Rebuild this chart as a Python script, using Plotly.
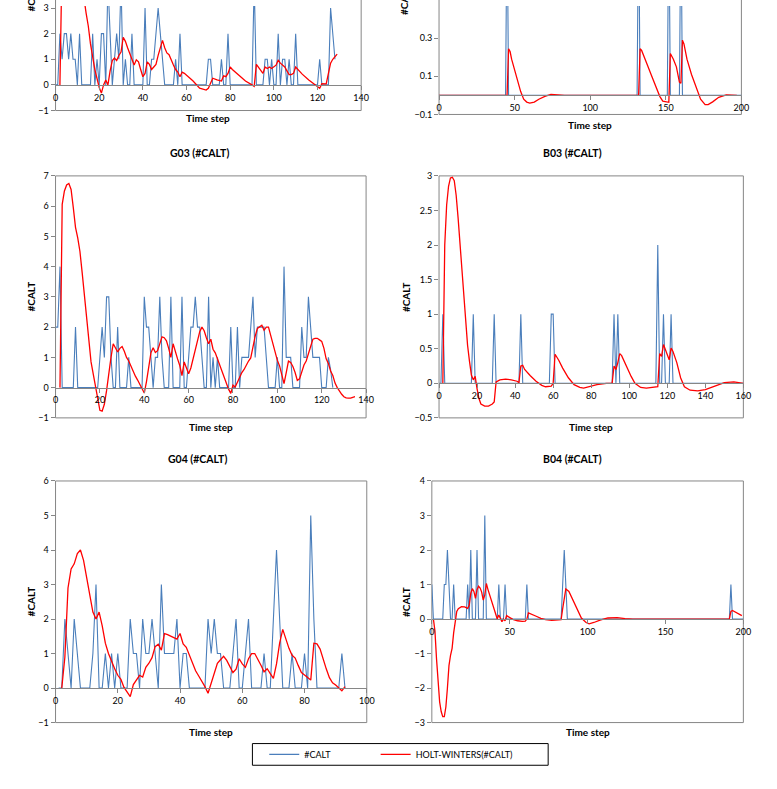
import plotly.graph_objects as go

W, H = 777, 789

# ---------------- data ----------------
# Top-left panel (cropped), time steps 0..128
TL_BLUE_START = 0
TL_BLUE = [0, 0, 2, 1, 2, 2, 1, 2, 1, 1, 0, 2, 0, 0, 0, 0, 0, 2, 0, 1,
           0, 2, 2, 0, 4, 2, 0, 1, 2, 1, 4, 0, 1, 0, 0, 2, 0, 0, 0, 0,
           0, 3, 0, 0, 1, 1, 2, 3, 2, 1, 0, 0, 0, 0, 0, 1, 0, 2, 0, 0,
           0, 0, 0, 0, 0, 0, 0, 0, 0, 0, 1, 1, 0, 0, 0, 0, 1, 0, 0, 2,
           0, 0, 0, 0, 0, 0, 0, 0, 0, 0, 0, 4, 0, 0, 0, 0, 1, 1, 0, 1,
           0, 0, 2, 0, 1, 1, 0, 1, 0, 0, 2, 0, 0, 0, 0, 0, 0, 0, 0, 0,
           0, 1, 0, 0, 0, 0, 3, 2, 1]
TL_RED_T = [2, 3, 4, 6, 8, 10, 12, 13, 14, 15, 16, 17, 18, 19, 20, 21, 22, 23, 24, 25,
            26, 27, 28, 29, 30, 31, 32, 33, 34, 35, 36, 37, 38, 39, 40, 41, 42, 43, 44, 45,
            46, 47, 48, 49, 50, 51, 52, 53, 54, 55, 56, 57, 58, 59, 60, 61, 63, 66, 69, 70,
            71, 72, 74, 76, 77, 78, 79, 80, 81, 84, 87, 90, 91, 92, 93, 95, 96, 97, 98, 99,
            101, 102, 103, 105, 106, 107, 108, 109, 110, 111, 113, 116, 118, 120, 121, 122,
            123, 124, 125, 126, 127, 128, 129]
TL_RED_V = [0, 5.0, 6.2, 6.6, 6.0, 5.0, 3.9, 3.4, 2.8, 2.3, 1.6, 1.0, 0.6, 0.25, -0.1, -0.32, 0.0, 0.19, 0.0, 0.55,
            0.95, 1.05, 0.95, 1.15, 1.28, 1.86, 1.7, 1.45, 1.2, 0.98, 0.78, 0.98, 0.9, 0.6, 0.32, 0.45, 0.9, 0.8, 0.6, 0.7,
            0.8, 1.15, 1.45, 1.74, 1.45, 1.25, 1.18, 0.95, 0.78, 0.6, 0.5, 0.32, 0.5, 0.45, 0.38, 0.32, 0.15, -0.13, -0.2, -0.13,
            0.05, 0.26, 0.2, 0.15, 0.35, 0.32, 0.45, 0.7, 0.6, 0.38, 0.15, 0.0, -0.06, 0.8, 0.67, 0.45, 0.7, 0.64, 0.7, 0.64,
            0.77, 0.96, 0.85, 0.7, 0.55, 0.4, 0.4, 0.45, 0.7, 0.6, 0.42, 0.19, 0.06, -0.1, -0.13, 0.05,
            0.04, 0.04, 0.45, 0.85, 1.0, 1.1, 1.2]

# Top-right panel (cropped), sparse points
TR_BLUE_T = [0, 44, 45, 46, 131, 132, 133, 151, 152, 153, 159, 160, 161, 200]
TR_BLUE_V = [0, 0, 1, 0, 0, 1, 0, 0, 1, 0, 0, 1, 0, 0]
TR_RED_T = [0, 45, 46, 47, 48, 50, 52, 54, 56, 58, 60, 63, 66, 70, 74, 79, 83, 132, 133, 134,
            136, 138, 140, 143, 146, 148, 152, 153, 155, 157, 159, 160, 161, 162, 164, 167, 170, 173, 176, 178,
            181, 185, 190, 193, 197]
TR_RED_V = [0, 0, 0.245, 0.23, 0.19, 0.13, 0.07, 0.02, -0.02, -0.035, -0.04, -0.035, -0.02, -0.005, 0.005, 0.003, 0, 0, 0.245, 0.236,
            0.2, 0.155, 0.115, 0.055, -0.005, -0.03, -0.036, 0.22, 0.19, 0.15, 0.07, 0.064, 0.29, 0.27, 0.19, 0.11, 0.04, -0.02, -0.048, -0.048,
            -0.034, -0.01, 0.003, 0.003, 0]

# G03, time steps 0..125
G03_BLUE_START = 0
G03_BLUE = [2, 2, 4, 0, 0, 0, 0, 0, 0, 2, 0, 0, 0, 0, 0, 0, 0, 0, 0, 0,
            1, 2, 1, 3, 3, 1, 0, 0, 2, 0, 0, 0, 0, 1, 0, 0, 0, 0, 0, 0,
            3, 2, 2, 1, 0, 1, 1, 3, 1, 0, 0, 0, 3, 0, 0, 0, 0, 3, 0, 0,
            1, 2, 2, 3, 2, 2, 1, 0, 0, 3, 0, 1, 0, 1, 0, 0, 0, 0, 0, 2,
            0, 0, 2, 0, 1, 1, 1, 1, 2, 3, 1, 2, 2, 2, 2, 1, 0, 0, 0, 0,
            1, 0, 0, 4, 1, 1, 1, 0, 0, 0, 0, 2, 1, 1, 3, 2, 1, 1, 1, 1,
            0, 0, 0, 1, 0.6, 0]
G03_RED_START = 2
G03_RED = [0, 6.06, 6.5, 6.7, 6.75, 6.55, 5.95, 5.3, 4.95, 4.5, 3.8, 3.0, 2.4, 1.6, 0.85, 0.45, 0.0, -0.45,
           -0.75, -0.78, -0.55, -0.1, 0.5, 1.0, 1.45, 1.3, 1.18, 1.3, 1.36, 1.2, 1.0, 0.88, 0.7, 0.52, 0.38, 0.25,
           0.12, 0.0, -0.18, 0.2, 0.75, 1.15, 1.32, 1.16, 1.22, 1.45, 1.68, 1.65, 1.55, 1.3, 1.0, 1.45, 1.15, 0.95,
           0.73, 0.4, 0.85, 0.65, 0.46, 0.65, 0.95, 1.3, 1.6, 1.85, 2.0, 1.88, 1.65, 1.45, 1.6, 1.27, 1.15, 0.95,
           0.7, 0.5, 0.3, 0.1, -0.05, -0.19, 0.08, 0.02, 0.18, 0.35, 0.5, 0.6, 0.75, 0.88, 0.98, 1.35, 1.7, 1.96,
           2.0, 2.06, 1.9, 2.0, 2.0, 1.7, 1.4, 1.1, 0.9, 0.72, 0.4, 0.13, 0.5, 0.88, 0.83, 0.7, 0.5, 0.24,
           0.29, 0.55, 0.75, 0.88, 1.1, 1.35, 1.6, 1.63, 1.63, 1.58, 1.53, 1.3, 0.95, 0.8, 0.55, 0.4, 0.15, 0.0,
           -0.12, -0.22, -0.3, -0.34, -0.35, -0.35, -0.32, -0.3]

# B03, sparse points
B03_BLUE_T = [0, 1, 2, 3, 17, 18, 19, 28, 29, 30, 42, 43, 44, 58, 59, 60, 61, 91, 92, 93,
              94, 95, 114, 115, 116, 117, 118, 119, 121, 122, 123, 160]
B03_BLUE_V = [0, 0, 1, 0, 0, 1, 0, 0, 1, 0, 0, 1, 0, 0, 1, 1, 0, 0, 1, 0,
              1, 0, 0, 2, 0, 0, 1, 0, 0, 1, 0, 0]
B03_RED_T = [2, 3, 4, 5, 6, 7, 8, 9, 10, 11, 12, 13, 14, 15, 16, 17, 18, 19, 20, 21,
             22, 24, 26, 28, 29, 30, 32, 35, 38, 41, 42, 43, 44, 45, 48, 51, 54, 56, 59, 60,
             61, 62, 63, 65, 68, 71, 74, 76, 79, 83, 88, 91, 92, 93, 94, 95, 96, 98, 101, 103,
             106, 109, 113, 115, 116, 117, 118, 119, 120, 121, 122, 123, 125, 127, 129, 132, 136, 140, 145, 150,
             155, 158, 160]
B03_RED_V = [0, 2.0, 2.58, 2.85, 2.97, 2.98, 2.93, 2.72, 2.4, 2.0, 1.6, 1.2, 0.88, 0.55, 0.32, 0.12, 0.05, 0.1, -0.08, -0.22,
             -0.3, -0.33, -0.33, -0.3, -0.27, 0.02, 0.05, 0.06, 0.05, 0.03, 0.01, 0.25, 0.26, 0.2, 0.11, 0.03, -0.03, -0.05, -0.04, 0.0,
             0.42, 0.38, 0.33, 0.22, 0.08, -0.02, -0.06, -0.07, -0.05, -0.02, 0.0, 0.0, 0.25, 0.2, 0.3, 0.43, 0.4, 0.27, 0.1, 0.0,
             -0.06, -0.07, -0.06, -0.05, 0.43, 0.39, 0.56, 0.49, 0.42, 0.34, 0.51, 0.46, 0.3, 0.08, -0.05, -0.1, -0.11, -0.09, -0.04, 0.01,
             0.02, 0.01, 0.0]

# G04, time steps 1..93
G04_BLUE_START = 1
G04_BLUE = [0, 0, 2, 1, 0, 2, 1, 0, 0, 0, 0, 1, 3, 0, 0, 1, 0, 1, 0, 1,
            0, 0, 0, 2, 1, 1, 0, 2, 1, 1, 2, 1, 0, 3, 1, 1, 1, 1, 2, 0,
            1, 1, 0, 0, 0, 0, 0, 0, 2, 1, 2, 1, 1, 0, 0, 0, 1, 2, 0, 0,
            1, 2, 0, 0, 0, 0, 1, 0, 0, 2, 4, 2, 0, 0, 0, 1, 0, 0, 0, 1,
            0, 5, 2, 0, 0, 0, 0, 0, 0, 0, 0, 1, 0]
G04_RED_START = 2
G04_RED = [0, 0.9, 2.9, 3.45, 3.6, 3.9, 4.0, 3.7, 3.2, 2.65, 2.2, 2.0, 2.2, 1.8, 1.3, 1.0, 0.75, 0.56, 0.37, 0.25,
           0.02, -0.12, -0.25, 0.1, 0.25, 0.37, 0.32, 0.6, 0.72, 0.88, 1.2, 1.27, 1.1, 1.58, 1.55, 1.5, 1.45, 1.42, 1.58, 1.28,
           1.18, 0.95, 0.7, 0.5, 0.35, 0.2, 0.04, -0.15, 0.15, 0.4, 0.72, 0.82, 0.92, 0.8, 0.6, 0.45, 0.55, 0.85, 0.7, 0.6,
           0.85, 1.0, 1.0, 0.85, 0.66, 0.47, 0.56, 0.42, 0.28, 0.7, 1.3, 1.7, 1.42, 1.15, 0.95, 0.87, 0.65, 0.45, 0.38, 0.3,
           0.23, 1.3, 1.28, 1.13, 0.82, 0.55, 0.3, 0.15, 0.09, 0.0, -0.08, 0.04]

# B04, sparse points
B04_BLUE_T = [0, 1, 7, 8, 9, 10, 11, 12, 13, 14, 15, 22, 23, 24, 25, 26, 28, 29, 30, 33,
              34, 35, 42, 43, 44, 46, 47, 48, 60, 61, 62, 83, 84, 85, 86, 87, 191, 192, 193, 200]
B04_BLUE_V = [1, 0, 0, 1, 1, 2, 1, 0, 0, 1, 0, 0, 1, 0, 2, 0, 0, 2, 0, 0,
              3, 0, 0, 1, 0, 0, 1, 0, 0, 1, 0, 0, 1, 2, 1, 0, 0, 1, 0, 0]
B04_RED_T = [1, 2, 3, 4, 5, 6, 7, 8, 9, 10, 11, 12, 13, 14, 15, 16, 17, 19, 21, 23,
             24, 25, 26, 27, 28, 29, 30, 31, 32, 33, 34, 35, 36, 37, 38, 39, 40, 41, 42, 43,
             44, 45, 46, 47, 48, 50, 52, 55, 58, 60, 61, 62, 64, 67, 70, 73, 77, 81, 83, 84,
             85, 86, 88, 91, 94, 96, 99, 101, 104, 108, 113, 119, 124, 129, 191, 192, 193, 196, 199]
B04_RED_V = [0, -0.35, -1.15, -1.9, -2.4, -2.68, -2.83, -2.83, -2.55, -2.0, -1.35, -1.05, -0.85, -0.4, 0.0, 0.22, 0.3, 0.36, 0.35, 0.31,
             0.4, 0.75, 0.88, 0.8, 0.6, 0.85, 0.95, 0.9, 0.78, 0.55, 0.7, 1.03, 0.86, 0.72, 0.6, 0.48, 0.32, 0.2, 0.0, 0.12,
             0.0, -0.08, 0.0, -0.05, 0.1, 0.05, -0.01, -0.05, -0.07, -0.06, 0.0, 0.18, 0.13, 0.08, 0.02, -0.02, -0.04, -0.04, -0.02, 0.3,
             0.6, 0.87, 0.8, 0.5, 0.2, 0.03, -0.1, -0.14, -0.1, -0.03, 0.03, 0.04, 0.01, 0.0, 0.0, 0.22, 0.25, 0.17, 0.1]

TITLES = ["", "", "G03 (#CALT)", "B03 (#CALT)", "G04 (#CALT)", "B04 (#CALT)"]
Y_TITLE = "#CALT"
X_TITLE = "Time step"
SERIES_NAMES = ["#CALT", "HOLT-WINTERS(#CALT)"]

# ---------------- styling / layout ----------------
BLUE = "#4a7ebb"
RED = "#ff0000"
AXIS = "#868686"
FONT = "Lato, 'Open Sans', sans-serif"


def seq(start, vals):
    return list(range(start, start + len(vals)))


panels = [
    dict(bx=seq(TL_BLUE_START, TL_BLUE), by=TL_BLUE, rx=TL_RED_T, ry=TL_RED_V,
         xr=[0, 140], xdt=20, yr=[-1, 3.08], y0=-1, ydt=1,
         px=(53.3, 363.3), py=(0, 106), ylab=(28, 8), xlab_y=114, title_xy=None, top=True),
    dict(bx=TR_BLUE_T, by=TR_BLUE_V, rx=TR_RED_T, ry=TR_RED_V,
         xr=[0, 200], xdt=50, yr=[-0.1, 0.469], y0=-0.1, ydt=0.2,
         px=(442.3, 749), py=(0, 110), ylab=(407, 11), xlab_y=121, title_xy=None, top=True),
    dict(bx=seq(G03_BLUE_START, G03_BLUE), by=G03_BLUE, rx=seq(G03_RED_START, G03_RED), ry=G03_RED,
         xr=[0, 140], xdt=20, yr=[-1, 7], y0=-1, ydt=1,
         px=(53.3, 368.3), py=(172.3, 417.7), ylab=(28, None), xlab_y=427, title_xy=(199, 149), top=False),
    dict(bx=B03_BLUE_T, by=B03_BLUE_V, rx=B03_RED_T, ry=B03_RED_V,
         xr=[0, 160], xdt=20, yr=[-0.5, 3], y0=-0.5, ydt=0.5,
         px=(442.3, 751), py=(172.3, 417.7), ylab=(409, None), xlab_y=427, title_xy=(578, 149), top=False),
    dict(bx=seq(G04_BLUE_START, G04_BLUE), by=G04_BLUE, rx=seq(G04_RED_START, G04_RED), ry=G04_RED,
         xr=[0, 100], xdt=20, yr=[-1, 6], y0=-1, ydt=1,
         px=(53.3, 369), py=(481.7, 726.7), ylab=(28, None), xlab_y=736, title_xy=(197, 459), top=False),
    dict(bx=B04_BLUE_T, by=B04_BLUE_V, rx=B04_RED_T, ry=B04_RED_V,
         xr=[0, 200], xdt=50, yr=[-3, 4], y0=-3, ydt=1,
         px=(435, 751), py=(481.7, 726.7), ylab=(409, None), xlab_y=736, title_xy=(578, 459), top=False),
]


def fx(px):
    return px / W


def fy(py):
    return 1 - py / H


fig = go.Figure()
layout = dict(
    width=W, height=H, margin=dict(l=0, r=0, t=0, b=0),
    paper_bgcolor="white", plot_bgcolor="white",
    font=dict(family=FONT, size=9, color="#000000"),
    shapes=[], annotations=[],
)

for i, p in enumerate(panels, start=1):
    xs = "" if i == 1 else str(i)
    fig.add_trace(go.Scatter(x=p["bx"], y=p["by"], mode="lines", name=SERIES_NAMES[0],
                             line=dict(color=BLUE, width=1.1), xaxis="x" + xs, yaxis="y" + xs,
                             legend="legend", showlegend=(i == 1), hoverinfo="skip"))
    fig.add_trace(go.Scatter(x=p["rx"], y=p["ry"], mode="lines", name=SERIES_NAMES[1],
                             line=dict(color=RED, width=1.3), xaxis="x" + xs, yaxis="y" + xs,
                             legend="legend2", showlegend=(i == 1), hoverinfo="skip"))
    ydom = [fy(p["py"][1]), fy(p["py"][0])]
    xdom = [fx(p["px"][0]), fx(p["px"][1])]
    r0, r1 = p["yr"]
    zero_pos = ydom[0] + (0 - r0) / (r1 - r0) * (ydom[1] - ydom[0])
    layout["xaxis" + xs] = dict(
        domain=xdom, range=p["xr"], anchor="free", position=zero_pos,
        tickmode="linear", tick0=0, dtick=p["xdt"],
        showline=True, linecolor=AXIS, linewidth=1, ticks="outside", ticklen=4,
        tickcolor=AXIS, tickfont=dict(size=9), showgrid=False, zeroline=False,
    )
    layout["yaxis" + xs] = dict(
        domain=ydom, range=p["yr"], anchor="x" + xs,
        tickmode="linear", tick0=p["y0"], dtick=p["ydt"],
        showline=False, ticks="outside", ticklen=4, tickcolor=AXIS,
        tickfont=dict(size=9), showgrid=False, zeroline=False,
    )
    # plot-area border
    layout["shapes"].append(dict(type="rect", xref="x" + xs + " domain", yref="y" + xs + " domain",
                                 x0=0, x1=1, y0=0, y1=(1.5 if p["top"] else 1),
                                 line=dict(color=AXIS, width=1), layer="below"))
    # axis titles
    layout["annotations"].append(dict(text="<b>%s</b>" % X_TITLE, xref="paper", yref="paper",
                                      x=(xdom[0] + xdom[1]) / 2, y=fy(p["xlab_y"]), showarrow=False,
                                      xanchor="center", yanchor="middle", font=dict(size=10)))
    lx, ly = p["ylab"]
    if ly is None:
        layout["annotations"].append(dict(text="<b>%s</b>" % Y_TITLE, xref="paper", yref="paper",
                                          x=fx(lx), y=(ydom[0] + ydom[1]) / 2, showarrow=False,
                                          textangle=-90, xanchor="center", yanchor="middle",
                                          font=dict(size=10)))
    else:
        layout["annotations"].append(dict(text="<b>%s</b>" % Y_TITLE, xref="paper", yref="paper",
                                          x=fx(lx), y=fy(ly), showarrow=False,
                                          textangle=-90, xanchor="center", yanchor="bottom",
                                          font=dict(size=10)))
    if p["title_xy"]:
        tx, ty = p["title_xy"]
        layout["annotations"].append(dict(text="<b>%s</b>" % TITLES[i - 1], xref="paper", yref="paper",
                                          x=fx(tx), y=fy(ty), showarrow=False,
                                          xanchor="center", yanchor="middle", font=dict(size=10.5)))

# legend frame (drawn as a shape) and the two legend entries
layout["shapes"].append(dict(type="rect", xref="paper", yref="paper",
                             x0=fx(253), x1=fx(553), y0=fy(770), y1=fy(748),
                             line=dict(color="#000000", width=1), fillcolor="white", layer="below"))
leg_common = dict(orientation="h", xanchor="left", y=fy(759), yanchor="middle",
                  borderwidth=0, bgcolor="rgba(0,0,0,0)", font=dict(size=9), itemwidth=30)
layout["legend"] = dict(x=fx(265), **leg_common)
layout["legend2"] = dict(x=fx(378), **leg_common)

fig.update_layout(**layout)
fig.write_html("out.html", post_script="document.body.style.margin='0px';",
               config={"displayModeBar": False})
